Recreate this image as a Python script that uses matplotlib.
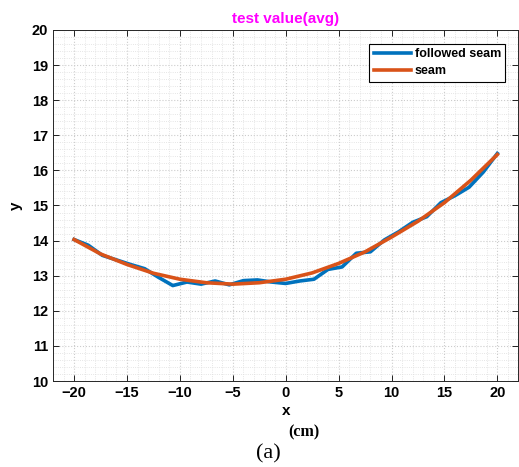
import matplotlib
matplotlib.use("Agg")
import matplotlib.pyplot as plt
import numpy as np
from matplotlib.ticker import MultipleLocator

# followed seam (measured)
follow_x = [-20, -18.67, -17.33, -16, -14.67, -13.33, -12, -10.67, -9.33, -8,
            -6.67, -5.33, -4, -2.67, -1.33, 0, 1.33, 2.67, 4, 5.33,
            6.67, 8, 9.33, 10.67, 12, 13.33, 14.67, 16, 17.33, 18.67, 20]
follow_y = [14.03, 13.87, 13.58, 13.45, 13.32, 13.2, 12.95, 12.72, 12.82, 12.76,
            12.85, 12.74, 12.86, 12.88, 12.82, 12.78, 12.85, 12.9, 13.18, 13.25,
            13.64, 13.68, 14.02, 14.25, 14.52, 14.68, 15.08, 15.28, 15.52, 15.95, 16.48]

# seam (reference)
seam_x = [-20, -17.5, -15, -12.5, -10, -7.5, -5, -2.5, 0, 2.5,
          5, 7.5, 10, 12.5, 15, 17.5, 20]
seam_y = [14.03, 13.62, 13.32, 13.07, 12.9, 12.8, 12.76, 12.8, 12.9, 13.08,
          13.35, 13.68, 14.1, 14.55, 15.08, 15.72, 16.45]

xticks = [-20, -15, -10, -5, 0, 5, 10, 15, 20]
yticks = [10, 11, 12, 13, 14, 15, 16, 17, 18, 19, 20]

plt.rcParams['font.family'] = ['Liberation Sans', 'DejaVu Sans']

fig = plt.figure(figsize=(5.19, 4.67), dpi=100)
ax = fig.add_axes([0.102, 0.184, 0.897, 0.752])

ax.plot(follow_x, follow_y, color='#0072BD', lw=2.6, label='followed seam')
ax.plot(seam_x, seam_y, color='#D95319', lw=2.6, label='seam')

ax.set_xlim(-22, 22)
ax.set_ylim(10, 20)
ax.set_xticks(xticks)
ax.set_yticks(yticks)
ax.xaxis.set_minor_locator(MultipleLocator(1))
ax.yaxis.set_minor_locator(MultipleLocator(0.2))
ax.tick_params(which='both', direction='in', top=True, right=True,
               labelsize=10.5, width=0.6)
ax.tick_params(which='major', length=4)
ax.tick_params(which='minor', length=0)
for lab in ax.get_xticklabels() + ax.get_yticklabels():
    lab.set_fontweight('bold')

ax.grid(which='major', color='#cccccc', ls=':', lw=0.8)
ax.grid(which='minor', color='#dddddd', ls=':', lw=0.6)
ax.set_axisbelow(True)
for s in ax.spines.values():
    s.set_color('#262626')
    s.set_linewidth(0.7)

ax.set_title('test value(avg)', color='magenta', fontweight='bold', fontsize=11, pad=5)
ax.set_xlabel('x', fontweight='bold', fontsize=11, labelpad=3)
ax.set_ylabel('y', fontweight='bold', fontsize=11, labelpad=6)

leg = ax.legend(loc='upper right', bbox_to_anchor=(0.972, 0.96), fancybox=False,
                edgecolor='black', framealpha=1, handlelength=3.0,
                prop={'weight': 'bold', 'size': 9}, borderpad=0.35,
                labelspacing=0.4, handletextpad=0.3, borderaxespad=0)
leg.get_frame().set_linewidth(0.8)

fig.text(0.493, 0.019, '(a)', family='Liberation Serif', fontsize=16)
fig.text(0.555, 0.066, '(cm)', family='Liberation Serif', fontsize=11.5, fontweight='bold')

fig.savefig('out.png', dpi=100)
